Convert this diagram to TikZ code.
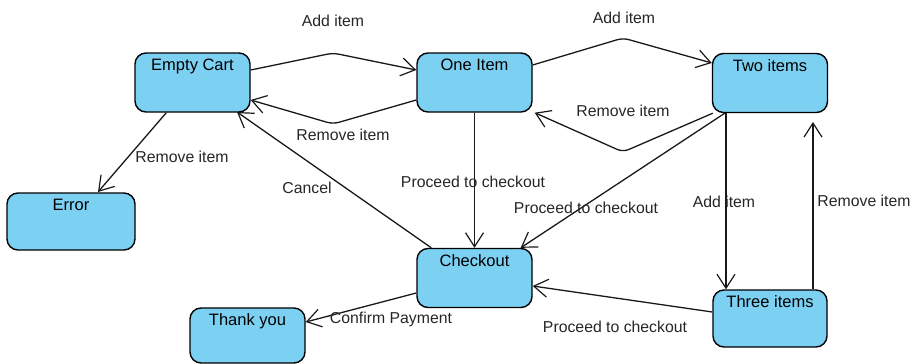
\documentclass[tikz,border=0pt]{standalone}
\usepackage{fontspec}
\setmainfont{Liberation Sans}
\usetikzlibrary{arrows.meta}
\definecolor{statefill}{RGB}{124,208,242}
\begin{document}
\begin{tikzpicture}[x=1pt,y=-1pt,
  state/.style={draw=black, line width=1.4pt, fill=statefill, rounded corners=11pt,
    minimum width=115pt, minimum height=59pt, inner sep=0pt},
  title/.style={anchor=base, font=\fontsize{16.5}{19}\selectfont, inner sep=0pt},
  lbl/.style={font=\fontsize{15.8}{18}\selectfont, text=black!85, inner sep=0pt},
  trans/.style={draw=black!90, line width=1.3pt, line join=round, rounded corners=6pt,
    -{Straight Barb[length=14pt,width=18pt,line width=1.2pt]}}]
\useasboundingbox (0,0) rectangle (914,364);

% states
\node[state] (ec) at (192.5,82.5) {};
\node[state] (oi) at (474.5,82.5) {};
\node[state] (two) at (770,83) {};
\node[state, minimum width=128pt, minimum height=57pt] (err) at (71,221.5) {};
\node[state] (co) at (474.5,278) {};
\node[state, minimum width=114pt, minimum height=57pt] (three) at (770,318.5) {};
\node[state, minimum height=55pt] (ty) at (247.5,335.5) {};

% state names
\node[title] (tec) at ([yshift=-18.5pt]ec.north) {Empty Cart};
\node[title] (toi) at ([yshift=-18.5pt]oi.north) {One Item};
\node[title] (ttwo) at ([yshift=-18.5pt]two.north) {Two items};
\node[title] (terr) at ([yshift=-18.5pt]err.north) {Error};
\node[title] (tco) at ([yshift=-18.5pt]co.north) {Checkout};
\node[title] (tthree) at ([yshift=-18.5pt]three.north) {Three items};
\node[title] (tty) at ([yshift=-18pt]ty.north) {Thank you};

% transitions
\draw[trans] (ec.east |- 0,70) -- (333,53) -- (oi.west |- 0,70);
\draw[trans] (oi.west |- 0,100) -- (333,124) -- (ec.east |- 0,100);
\draw[trans] (oi.east |- 0,65) -- (623,38) -- (two.west |- 0,63);
\draw[trans] ([xshift=1pt]two.south west) -- (623,152) -- ([xshift=2pt]oi.south east);
\draw[trans] ([xshift=13pt]two.south west) -- ([xshift=-12pt]co.north east);
\draw[trans] (two.south west -| 726,0) -- (three.north west -| 726,0);
\coordinate (rmtip) at (813,122);
\draw[trans] (three.north west -| 813,0) -- (rmtip);
\draw[trans] (oi.south) -- (co.north);
\draw[trans] (three.west |- 0,312) -- (co.east |- 0,286);
\draw[trans] ([xshift=15pt]co.north west) -- (237,112);
\draw[trans] ([xshift=32pt]ec.south west) -- (98,192);
\draw[trans] (co.west |- 0,293) -- (ty.east |- 0,322);

% transition labels
\node[lbl] (l1) at (333,21) {Add item};
\node[lbl] (l2) at (343,135) {Remove item};
\node[lbl] (l3) at (624,18) {Add item};
\node[lbl] (l4) at (623,111) {Remove item};
\node[lbl] (l5) at (586,208) {Proceed to checkout};
\node[lbl] (l6) at (724,202) {Add item};
\node[lbl] (l7) at (864,201) {Remove item};
\node[lbl] (l8) at (473,182) {Proceed to checkout};
\node[lbl] (l9) at (615,327) {Proceed to checkout};
\node[lbl] (l10) at (307,188) {Cancel};
\node[lbl] (l11) at (182,157) {Remove item};
\node[lbl] (l12) at (391,319) {Confirm Payment};
\end{tikzpicture}
\end{document}
